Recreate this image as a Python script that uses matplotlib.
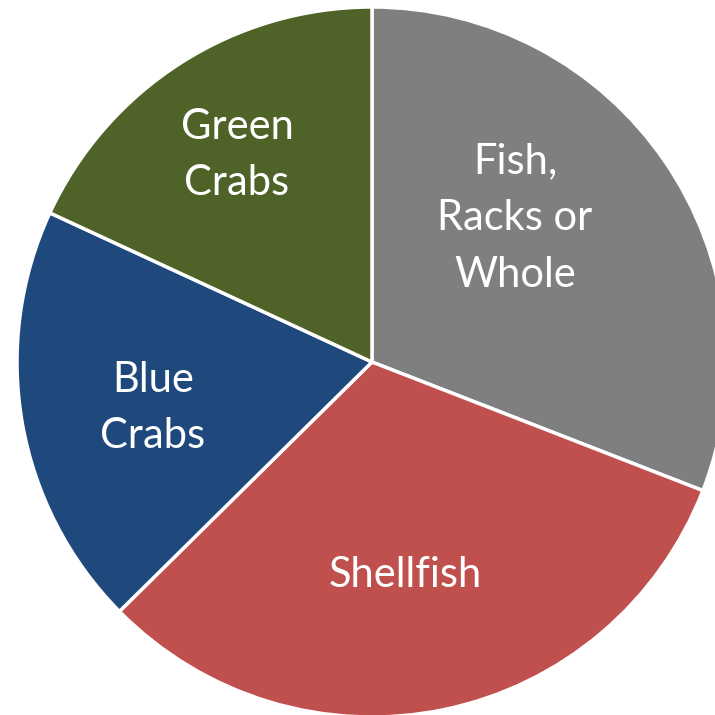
import matplotlib.pyplot as plt

labels = ["Fish,\nRacks or\nWhole", "Shellfish", "Blue\nCrabs", "Green\nCrabs"]
shares = [30.9, 31.7, 19.3, 18.1]
colors = ["#7F7F7F", "#C0504D", "#1F497D", "#4F6228"]

# label centres in pixel coords (x right, y up), picked from the layout
label_xy = [(515, 497), (405, 140), (153, 307), (237, 560)]

fig = plt.figure(figsize=(7.15, 7.15), dpi=100)
ax = fig.add_axes([0, 0, 1, 1], frameon=False)

ax.pie(shares, colors=colors, startangle=90, counterclock=False,
       center=(372, 353), radius=355, frame=True,
       wedgeprops=dict(edgecolor="white", linewidth=2.5))
ax.set_xlim(0, 715)
ax.set_ylim(0, 715)
ax.set_aspect("equal")
ax.axis("off")

for txt, (x, y) in zip(labels, label_xy):
    ax.text(x, y, txt, ha="center", va="center", color="white",
            fontsize=30, family="Lato", linespacing=1.6)

fig.savefig("out.png", dpi=100)
